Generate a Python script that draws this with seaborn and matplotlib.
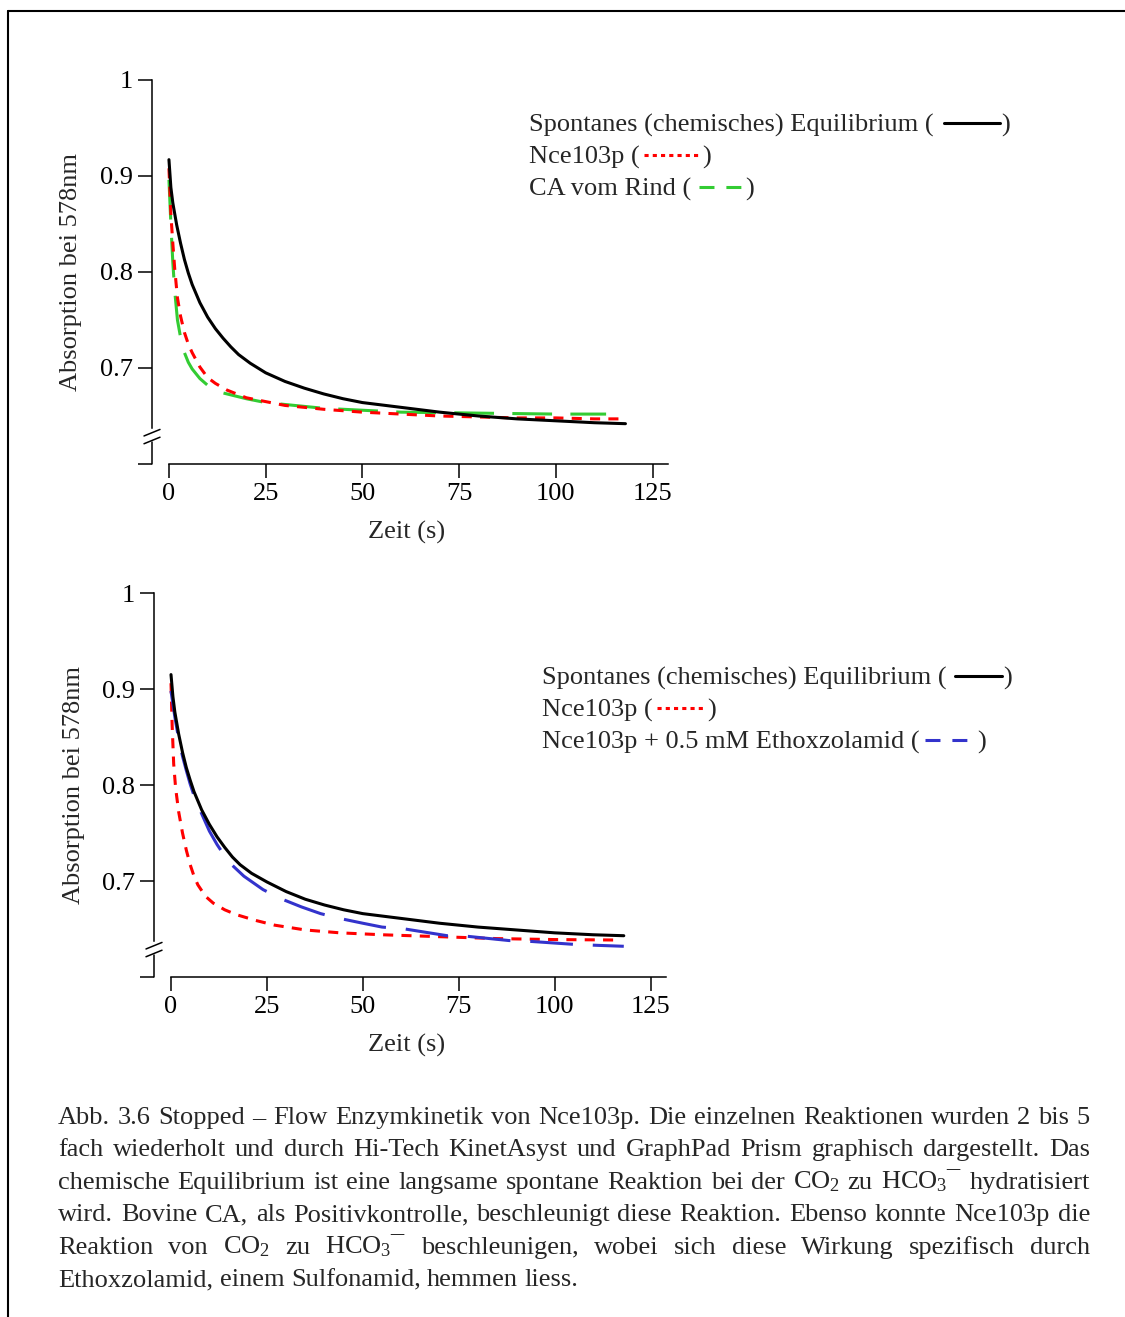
import matplotlib
matplotlib.use('Agg')
import matplotlib.pyplot as plt
from matplotlib.lines import Line2D
import seaborn as sns

W, H = 1125, 1317

# ---------------- data ----------------
# upper panel
zeit_spontan_a = [0, 0.5, 1, 2, 3, 4, 5, 6, 8, 10, 12, 14, 16, 18, 21, 25, 30, 35, 40, 45, 50, 60, 70, 80, 90, 100, 110, 118]
abs_spontan_a = [0.917, 0.888, 0.872, 0.849, 0.830, 0.813, 0.799, 0.787, 0.768, 0.753, 0.741, 0.731, 0.722, 0.714,
                 0.705, 0.695, 0.686, 0.679, 0.673, 0.668, 0.664, 0.659, 0.654, 0.650, 0.647, 0.645, 0.643, 0.642]

zeit_nce_a = [0, 0.5, 1, 1.5, 2.2, 3, 4, 5, 6, 8, 10, 12, 15, 20, 25, 30, 40, 50, 60, 70, 80, 90, 100, 110, 117]
abs_nce_a = [0.908, 0.860, 0.830, 0.803, 0.773, 0.754, 0.737, 0.725, 0.716, 0.701, 0.690, 0.684, 0.677, 0.669,
             0.665, 0.661, 0.657, 0.654, 0.652, 0.650, 0.649, 0.648, 0.648, 0.647, 0.647]

zeit_rind = [0, 0.5, 1, 1.5, 2.2, 3, 4, 5, 6, 8, 10, 14, 20, 25, 30, 40, 50, 60, 80, 100, 113]
abs_rind = [0.896, 0.850, 0.810, 0.780, 0.750, 0.732, 0.716, 0.706, 0.699, 0.689, 0.682, 0.674, 0.668, 0.664,
            0.662, 0.658, 0.656, 0.654, 0.653, 0.652, 0.652]

# lower panel
zeit_spontan_b = [0, 0.5, 1, 2, 3, 4, 5, 6, 8, 10, 12, 14, 16, 18, 21, 25, 30, 35, 40, 45, 50, 60, 70, 80, 90, 100, 110, 118]
abs_spontan_b = [0.915, 0.892, 0.876, 0.853, 0.834, 0.818, 0.805, 0.793, 0.774, 0.759, 0.746, 0.735, 0.725, 0.717,
                 0.708, 0.699, 0.689, 0.681, 0.675, 0.670, 0.666, 0.661, 0.656, 0.652, 0.649, 0.646, 0.644, 0.643]

zeit_nce_b = [0, 0.3, 0.7, 1.2, 2, 3, 4, 5, 6, 7, 9, 11, 14, 17, 22, 27, 35, 44, 55, 70, 85, 100, 117]
abs_nce_b = [0.906, 0.862, 0.822, 0.797, 0.772, 0.750, 0.732, 0.717, 0.705, 0.696, 0.684, 0.677, 0.670, 0.665,
             0.659, 0.654, 0.649, 0.646, 0.644, 0.642, 0.640, 0.639, 0.6385]

zeit_ethox = [0, 1, 2, 3, 4, 5, 6, 8, 10, 12, 15, 19, 24, 29, 34, 39, 44, 50, 55, 61, 72, 77, 88, 94, 105, 111, 118]
abs_ethox = [0.898, 0.871, 0.848, 0.830, 0.815, 0.801, 0.789, 0.770, 0.752, 0.738, 0.720, 0.705, 0.691, 0.681,
             0.673, 0.666, 0.661, 0.656, 0.652, 0.650, 0.643, 0.6425, 0.638, 0.637, 0.634, 0.633, 0.632]

y_ticks = [0.6, 0.7, 0.8, 0.9, 1.0]
y_ticklabels = ['', '0.7', '0.8', '0.9', '1']
x_ticks = [0, 25, 50, 75, 100, 125]

legend_a = ['Spontanes (chemisches) Equilibrium (', 'Nce103p (', 'CA vom Rind (']
legend_b = ['Spontanes (chemisches) Equilibrium (', 'Nce103p (', 'Nce103p + 0.5 mM Ethoxzolamid (']

caption = [
    'Abb. 3.6 Stopped \u2013 Flow Enzymkinetik von Nce103p. Die einzelnen Reaktionen wurden 2 bis 5',
    'fach wiederholt und durch Hi-Tech KinetAsyst und GraphPad Prism graphisch dargestellt. Das',
    'chemische Equilibrium ist eine langsame spontane Reaktion bei der CO$_2$ zu HCO$_3$\u00af hydratisiert',
    'wird. Bovine CA, als Positivkontrolle, beschleunigt diese Reaktion. Ebenso konnte Nce103p die',
    'Reaktion von CO$_2$ zu HCO$_3$\u00af beschleunigen, wobei sich diese Wirkung spezifisch durch',
    'Ethoxzolamid, einem Sulfonamid, hemmen liess.',
]

# ---------------- style ----------------
sns.set_style('ticks')
plt.rcParams['font.family'] = ['Liberation Serif', 'DejaVu Serif']
plt.rcParams['mathtext.fontset'] = 'custom'
plt.rcParams['mathtext.rm'] = 'Liberation Serif'
plt.rcParams['mathtext.it'] = 'Liberation Serif:italic'
FS = 19
LW = 2.2

RED_DASH = (0, (3.3, 2.7))
GREEN_DASH = (0, (13, 6))
BLUE_DASH = (0, (14, 6.5))

fig = plt.figure(figsize=(W / 100, H / 100), dpi=100)
r = fig.canvas.get_renderer()


def px_axes(x0, x1, y_top, y_bot):
    return fig.add_axes([x0 / W, 1 - y_bot / H, (x1 - x0) / W, (y_bot - y_top) / H])


def style_axes(ax, xmin):
    ax.set_xlim(xmin, 129)
    ax.set_ylim(0.6, 1.0)
    ax.set_xticks(x_ticks)
    ax.set_yticks(y_ticks)
    ax.set_yticklabels(y_ticklabels)
    ax.tick_params(labelsize=FS, length=10, width=1.1, colors='black')
    ax.tick_params(axis='y', pad=4)
    ax.tick_params(axis='x', pad=4)
    sns.despine(ax=ax)
    for s in ['left', 'bottom']:
        ax.spines[s].set_linewidth(1.1)
        ax.spines[s].set_color('black')
    ax.spines['bottom'].set_bounds(0, 129)
    # broken y axis
    ax.spines['left'].set_bounds(0.6375, 1.0)
    tr = ax.get_yaxis_transform()
    ax.plot([0, 0], [0.6, 0.623], color='black', lw=1.1, transform=tr, clip_on=False)
    hw = 8 / (ax.get_position().width * W)
    for yc in (0.6326, 0.6245):
        ax.plot([-hw, hw], [yc - 0.0034, yc + 0.0034], color='black', lw=1.1, transform=tr, clip_on=False)
    ax.set_xlabel('Zeit (s)', fontsize=FS)
    ax.set_ylabel('Absorption bei 578nm', fontsize=FS)
    ax.xaxis.set_label_coords(0.494, -0.148)
    ax.yaxis.set_label_coords(-0.135, 0.5)
    ax.grid(False)


def legend_row(x_px, y_px, label, color, ls, gap, length, close_gap):
    t = fig.text(x_px / W, 1 - y_px / H, label, fontsize=FS, va='center')
    bb = t.get_window_extent(renderer=r)
    x0 = bb.x1 + gap
    x1 = x0 + length
    fig.add_artist(Line2D([x0 / W, x1 / W], [1 - (y_px - 2) / H] * 2, color=color, lw=LW,
                          linestyle=ls, transform=fig.transFigure))
    fig.text((x1 + close_gap) / W, 1 - y_px / H, ')', fontsize=FS, va='center')


# ---------------- upper panel ----------------
ax1 = px_axes(152, 668, 80, 464)
sns.lineplot(x=zeit_rind, y=abs_rind, ax=ax1, color='#33cc33', lw=LW, linestyle=GREEN_DASH)
sns.lineplot(x=zeit_nce_a, y=abs_nce_a, ax=ax1, color='#ff0000', lw=LW, linestyle=RED_DASH)
sns.lineplot(x=zeit_spontan_a, y=abs_spontan_a, ax=ax1, color='black', lw=LW)
style_axes(ax1, -4.38)

legend_row(529, 125, legend_a[0], 'black', '-', 10, 56, 2)
legend_row(529, 157, legend_a[1], '#ff0000', (0, (1.35, 1.35)), 4, 56, 2)
legend_row(529, 189, legend_a[2], '#33cc33', (0, (4.9, 3.9)), 8, 44, 2)

# ---------------- lower panel ----------------
ax2 = px_axes(154, 666, 593, 977)
sns.lineplot(x=zeit_nce_b, y=abs_nce_b, ax=ax2, color='#ff0000', lw=LW, linestyle=RED_DASH)
sns.lineplot(x=zeit_ethox, y=abs_ethox, ax=ax2, color='#3333cc', lw=LW, linestyle=BLUE_DASH)
sns.lineplot(x=zeit_spontan_b, y=abs_spontan_b, ax=ax2, color='black', lw=LW)
style_axes(ax2, -4.43)

legend_row(542, 678, legend_b[0], 'black', '-', 8, 47, 2)
legend_row(542, 710, legend_b[1], '#ff0000', (0, (1.35, 1.35)), 4, 48, 2)
legend_row(542, 742, legend_b[2], '#3333cc', (0, (4.9, 3.9)), 5, 42, 11)

# ---------------- caption (justified) ----------------
left_px, right_px = 58, 1090
base0, step = 1124, 32.4
for i, line in enumerate(caption):
    y = 1 - (base0 + i * step) / H
    words = line.split(' ')
    texts = [fig.text(0, y, w, fontsize=FS, va='baseline') for w in words]
    widths = [t.get_window_extent(renderer=r).width for t in texts]
    if i == len(caption) - 1:
        gap = 6.6
    else:
        gap = (right_px - left_px - sum(widths)) / (len(words) - 1)
    x = left_px
    for t, w in zip(texts, widths):
        t.set_x(x / W)
        x += w + gap

# frame around the figure (left and top edge visible)
fig.add_artist(Line2D([7.5 / W, 7.5 / W], [0, 1 - 11 / H], color='black', lw=1.5, transform=fig.transFigure))
fig.add_artist(Line2D([7.5 / W, 1], [1 - 11 / H] * 2, color='black', lw=1.5, transform=fig.transFigure))

fig.savefig('out.png', dpi=100)
